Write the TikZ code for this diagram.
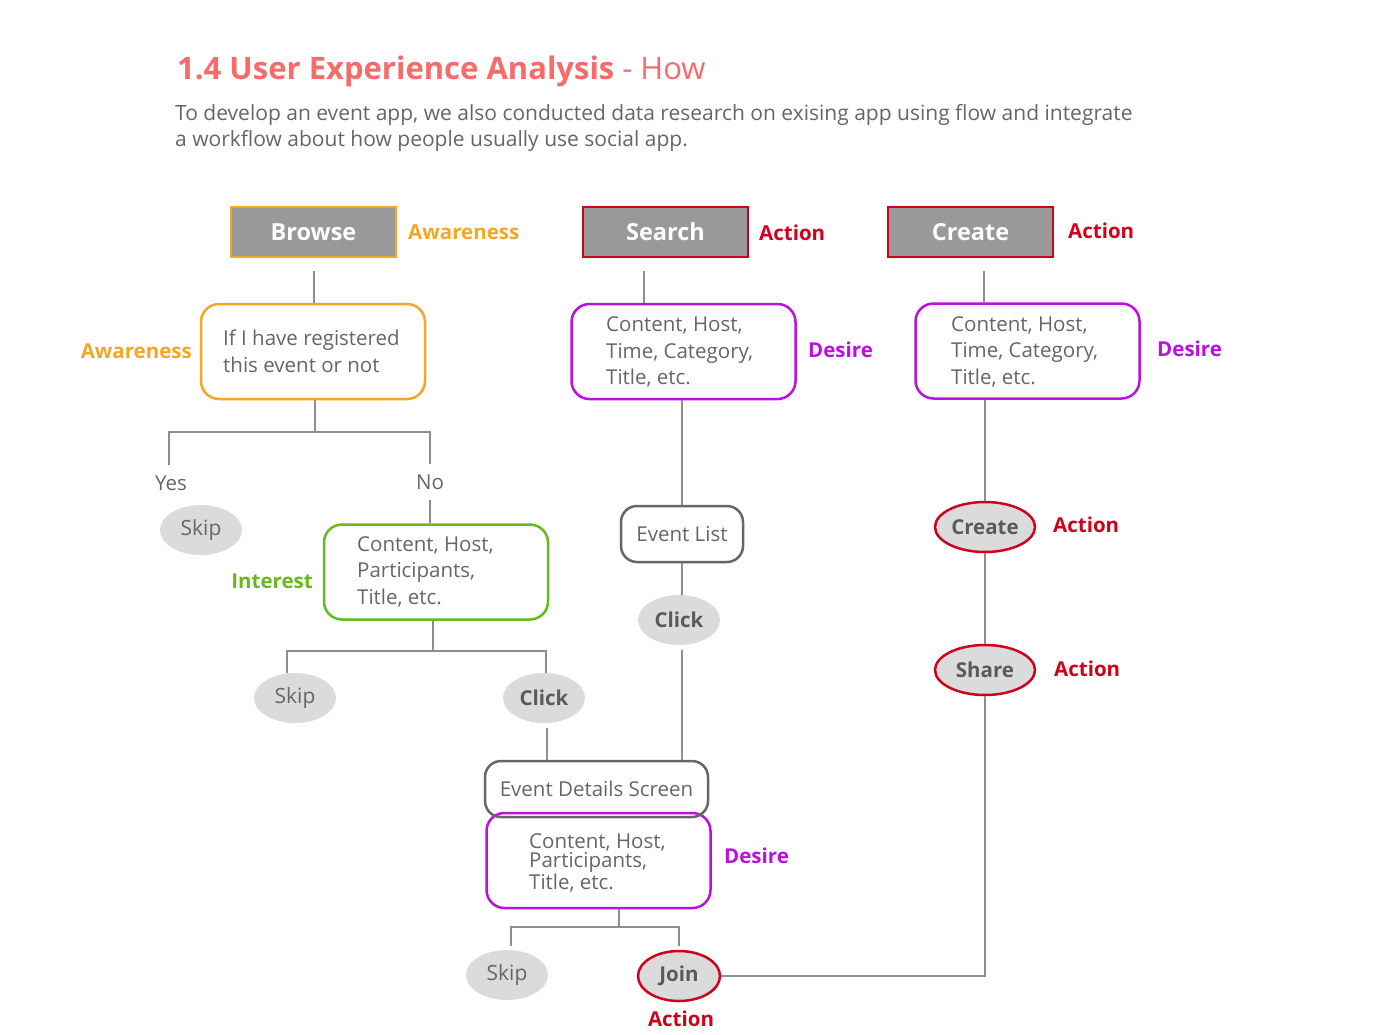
\documentclass[tikz,border=0pt]{standalone}
\usepackage{fontspec}
\setmainfont{Open Sans}
\usetikzlibrary{shapes.geometric,calc}
\definecolor{cOrange}{HTML}{F5A623}
\definecolor{cRed}{HTML}{D0021B}
\definecolor{cPurple}{HTML}{BD10E0}
\definecolor{cGreen}{HTML}{66BB1A}
\definecolor{cTitle}{HTML}{F76B6B}
\definecolor{cText}{HTML}{666666}
\definecolor{cDark}{HTML}{5A5A5A}
\definecolor{cLine}{HTML}{8E8E8E}
\definecolor{cHead}{HTML}{999999}
\definecolor{cEll}{HTML}{DBDBDB}
\tikzset{
  headbox/.style={draw, line width=2.5pt, fill=cHead, minimum width=165pt, minimum height=50pt, inner sep=0pt, text=white, font=\bfseries\fontsize{23.5}{30}\selectfont},
  infobox/.style={draw, line width=2.5pt, rounded corners=18pt, inner sep=0pt, minimum width=224pt, minimum height=95pt},
  greybox/.style={draw=cText, line width=2.5pt, rounded corners=16pt, inner sep=0pt, minimum height=56pt, text=cText, font=\fontsize{20.5}{26}\selectfont},
  boxtext/.style={anchor=west, align=left, inner sep=0pt, text=cText, font=\fontsize{20.5}{26.5}\selectfont},
  tag/.style={font=\bfseries\fontsize{20.5}{25}\selectfont, inner sep=0pt},
  plain/.style={text=cText, font=\fontsize{20.5}{24}\selectfont, inner ysep=10pt, inner xsep=2pt},
  oval/.style={ellipse, fill=cEll, minimum width=82pt, minimum height=50pt, inner sep=0pt, text=cText, font=\fontsize{21}{25}\selectfont},
  ovalbold/.style={oval, text=cDark, font=\bfseries\fontsize{20.5}{25}\selectfont},
  ovalred/.style={ovalbold, draw=cRed, line width=2.5pt},
  conn/.style={draw=cLine, line width=2pt},
}
\begin{document}
\begin{tikzpicture}[x=1pt,y=-1pt]
\useasboundingbox[fill=white] (0,0) rectangle (1400,1034);

% title and intro
\node[anchor=base west, inner sep=0pt, text=cTitle, font=\fontsize{31}{38}\selectfont] (title) at (177,79) {{\bfseries 1.4 User Experience Analysis} - How};
\node[anchor=north west, align=left, inner sep=0pt, text=cText, font=\fontsize{21}{26.5}\selectfont] (intro) at (175,104) {To develop an event app, we also conducted data research on exising app using flow and integrate\\a workflow about how people usually use social app.};

% head boxes
\node[headbox, draw=cOrange] (browse) at (313.5,232) {Browse};
\node[headbox, draw=cRed] (search) at (665.5,232) {Search};
\node[headbox, draw=cRed] (create) at (970.5,232) {Create};
\node[tag, text=cOrange, anchor=west] (aw1) at (408,232) {Awareness};
\node[tag, text=cRed, anchor=west] (act1) at (759,233) {Action};
\node[tag, text=cRed, anchor=west] (act2) at (1068,231) {Action};

% browse column
\node[infobox, draw=cOrange] (reg) at (313,351.5) {};
\node[boxtext] (regt) at (223,351) {If I have registered\\this event or not};
\node[tag, text=cOrange, anchor=east] (aw2) at (192,351) {Awareness};
\node[plain] (yes) at (171,483) {Yes};
\node[plain] (no) at (430,482) {No};
\node[oval] (skip1) at (201,530) {Skip};
\node[infobox, draw=cGreen] (int) at (436,572) {};
\node[boxtext] (intt) at (357,571.5) {Content, Host,\\Participants,\\Title, etc.};
\node[tag, text=cGreen, anchor=east] (intl) at (313,581) {Interest};
\node[oval] (skip2) at (295,698) {Skip};
\node[ovalbold] (click1) at (544,698) {Click};

% search column
\node[infobox, draw=cPurple] (sd) at (683.5,351.5) {};
\node[boxtext] (sdt) at (606,352) {Content, Host,\\Time, Category,\\Title, etc.};
\node[tag, text=cPurple, anchor=west] (des1) at (808,350) {Desire};
\node[greybox, minimum width=122pt] (el) at (682,534) {Event List};
\node[ovalbold] (click2) at (679,620) {Click};

% details
\node[infobox, draw=cPurple] (dd) at (598.5,860.5) {};
\node[boxtext, font=\fontsize{20.5}{19.5}\selectfont] (ddt) at (529,862.5) {Content, Host,\\Participants,\\Title, etc.};
\node[greybox, minimum width=223pt] (eds) at (596.5,789) {Event Details Screen};
\node[tag, text=cPurple, anchor=west] (des3) at (724,856) {Desire};
\node[oval] (skip3) at (507,975) {Skip};
\node[ovalred] (join) at (679,976) {Join};
\node[tag, text=cRed] (act5) at (681,1019) {Action};

% create column
\node[infobox, draw=cPurple] (cd) at (1027.5,351) {};
\node[boxtext] (cdt) at (951,351.5) {Content, Host,\\Time, Category,\\Title, etc.};
\node[tag, text=cPurple, anchor=west] (des2) at (1157,349) {Desire};
\node[ovalred, minimum width=100pt] (cre) at (985,527) {Create};
\node[tag, text=cRed, anchor=west] (act3) at (1053,525) {Action};
\node[ovalred, minimum width=100pt] (share) at (985,670) {Share};
\node[tag, text=cRed, anchor=west] (act4) at (1054,669) {Action};

% connectors
\draw[conn, shorten <=13pt] (browse.south) -- (browse.south |- reg.north);
\draw[conn, shorten <=13pt] ([xshift=-22pt]search.south) -- ([xshift=-22pt]search.south |- sd.north);
\draw[conn, shorten <=13pt] ([xshift=13.5pt]create.south) -- ([xshift=13.5pt]create.south |- cd.north);

\coordinate (b1) at (315,432);
\draw[conn] (reg.south -| b1) -- (b1);
\draw[conn] ([xshift=-2pt]yes.north) |- (b1) -| (no.north);
\draw[conn] (no.south) -- (no.south |- int.north);

\coordinate (b2) at (433,651);
\draw[conn] (int.south -| b2) -- (b2);
\draw[conn] (skip2.north -| 287,0) |- (b2) -| ([xshift=2pt]click1.north);
\draw[conn, shorten <=5pt] ([xshift=3pt]click1.south) -- ([xshift=3pt]click1.south |- eds.north);

\draw[conn] (sd.south -| el.north) -- (el.north);
\draw[conn] (el.south) -- (el.south |- click2.north);
\draw[conn, shorten <=5pt] (click2.south -| el.south) -- (el.south |- eds.north);

\coordinate (b3) at (619,927);
\draw[conn] (dd.south -| b3) -- (b3);
\draw[conn, shorten <=4pt, shorten >=4pt] ([xshift=4pt]skip3.north) |- (b3) -| (join.north);
\draw[conn] (join.east) -| (share.south);

\draw[conn] (cd.south -| cre.north) -- (cre.north);
\draw[conn] (cre.south) -- (share.north);
\end{tikzpicture}
\end{document}
